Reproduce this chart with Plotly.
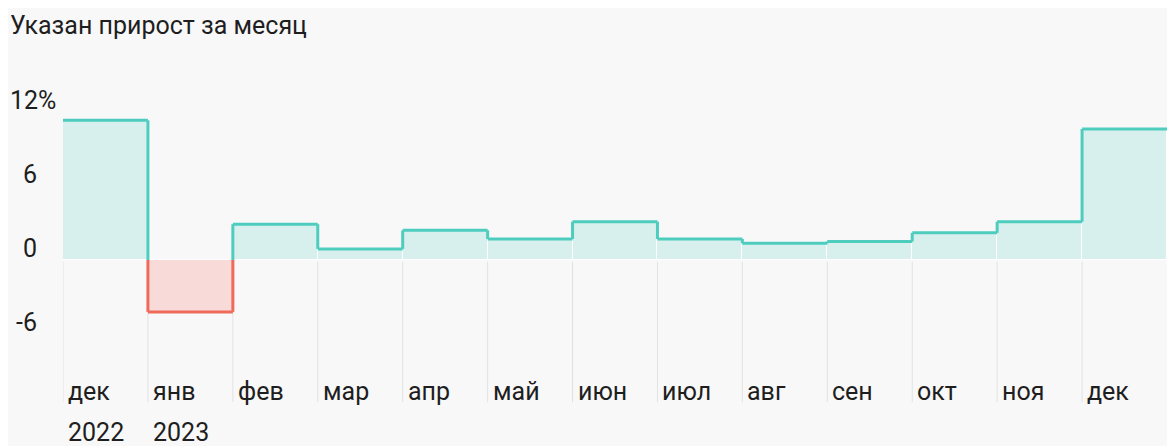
import plotly.graph_objects as go

months = ["дек", "янв", "фев", "мар", "апр", "май", "июн", "июл", "авг", "сен", "окт", "ноя", "дек"]
years = ["2022", "2023", "", "", "", "", "", "", "", "", "", "", ""]
growth = [11.3, -4.2, 2.9, 0.9, 2.4, 1.7, 3.1, 1.7, 1.35, 1.5, 2.2, 3.1, 10.6]
ytick_vals = [12, 6, 0, -6]
ytick_text = ["12%", "6", "0", "-6"]

title = "Указан прирост за месяц"

TEAL = "#4ecdbf"
TEAL_FILL = "#d8f0ed"
RED = "#f06a5a"
RED_FILL = "#f8dad8"
BG = "#f8f8f8"
FONT = "Roboto"
TXT = "#1e1e1e"

# page has an 8px body margin, so coordinates below are in figure pixels
W, H = 1175, 446
L, R, T, B = 55, 16, 92, 48
pw, ph = W - L - R, H - T - B
ZERO = 252          # pixel row of the baseline
PXU = 12.36         # pixels per percent


def px(x):
    return (x - L) / pw


def py(y):
    return (H - B - y) / ph


n = len(growth)
fig = go.Figure()

# filled areas, one bar per month
fig.add_trace(go.Bar(
    x=list(range(n)), y=growth, base=0, width=1, offset=0,
    marker=dict(color=[TEAL_FILL if v >= 0 else RED_FILL for v in growth],
                line=dict(color="white", width=1)),
    hoverinfo="skip", showlegend=False,
))

# step outline split at zero by sign
pts = [(0, growth[0]), (1, growth[0])]
for i in range(1, n):
    if (growth[i - 1] >= 0) != (growth[i] >= 0):
        pts.append((i, 0))
    pts.append((i, growth[i]))
    pts.append((i + 1, growth[i]))

segs = {True: ([], []), False: ([], [])}
for (x0, y0), (x1, y1) in zip(pts[:-1], pts[1:]):
    pos = (y0 + y1) / 2 >= 0
    xs, ys = segs[pos]
    xs += [x0, x1, None]
    ys += [y0, y1, None]
for pos, col in [(True, TEAL), (False, RED)]:
    xs, ys = segs[pos]
    fig.add_trace(go.Scatter(x=xs, y=ys, mode="lines", line=dict(color=col, width=3),
                             hoverinfo="skip", showlegend=False))

# month separators below the baseline
for i in range(n):
    fig.add_shape(type="line", x0=i, x1=i, y0=-0.15, y1=-11.5, xref="x", yref="y",
                  line=dict(color="#e2e2e2", width=1), layer="below")

ann = []
ann.append(dict(text=title, xref="paper", yref="paper", x=px(0), y=py(18),
                xanchor="left", yanchor="middle", showarrow=False,
                font=dict(size=25, color=TXT, family=FONT)))
for v, t in zip(ytick_vals, ytick_text):
    left = t.endswith("%")
    ann.append(dict(text=t, xref="paper", yref="y", x=px(0) if left else px(31), y=v,
                    xanchor="left" if left else "right", yanchor="bottom", yshift=-5,
                    showarrow=False, font=dict(size=25, color=TXT, family=FONT)))
for i, (m, yr) in enumerate(zip(months, years)):
    ann.append(dict(text=m, xref="x", yref="paper", x=i, y=py(383), xshift=3,
                    xanchor="left", yanchor="middle", showarrow=False,
                    font=dict(size=25, color=TXT, family=FONT)))
    if yr:
        ann.append(dict(text=yr, xref="x", yref="paper", x=i, y=py(424), xshift=3,
                        xanchor="left", yanchor="middle", showarrow=False,
                        font=dict(size=25, color=TXT, family=FONT)))

fig.update_layout(
    width=W, height=H,
    margin=dict(l=L, r=R, t=T, b=B),
    paper_bgcolor=BG, plot_bgcolor=BG,
    bargap=0,
    xaxis=dict(range=[0, n], visible=False, fixedrange=True),
    yaxis=dict(range=[-(H - B - ZERO) / PXU, (ZERO - T) / PXU], visible=False, fixedrange=True),
    annotations=ann,
    font=dict(family=FONT),
)

fig.write_html("out.html")
